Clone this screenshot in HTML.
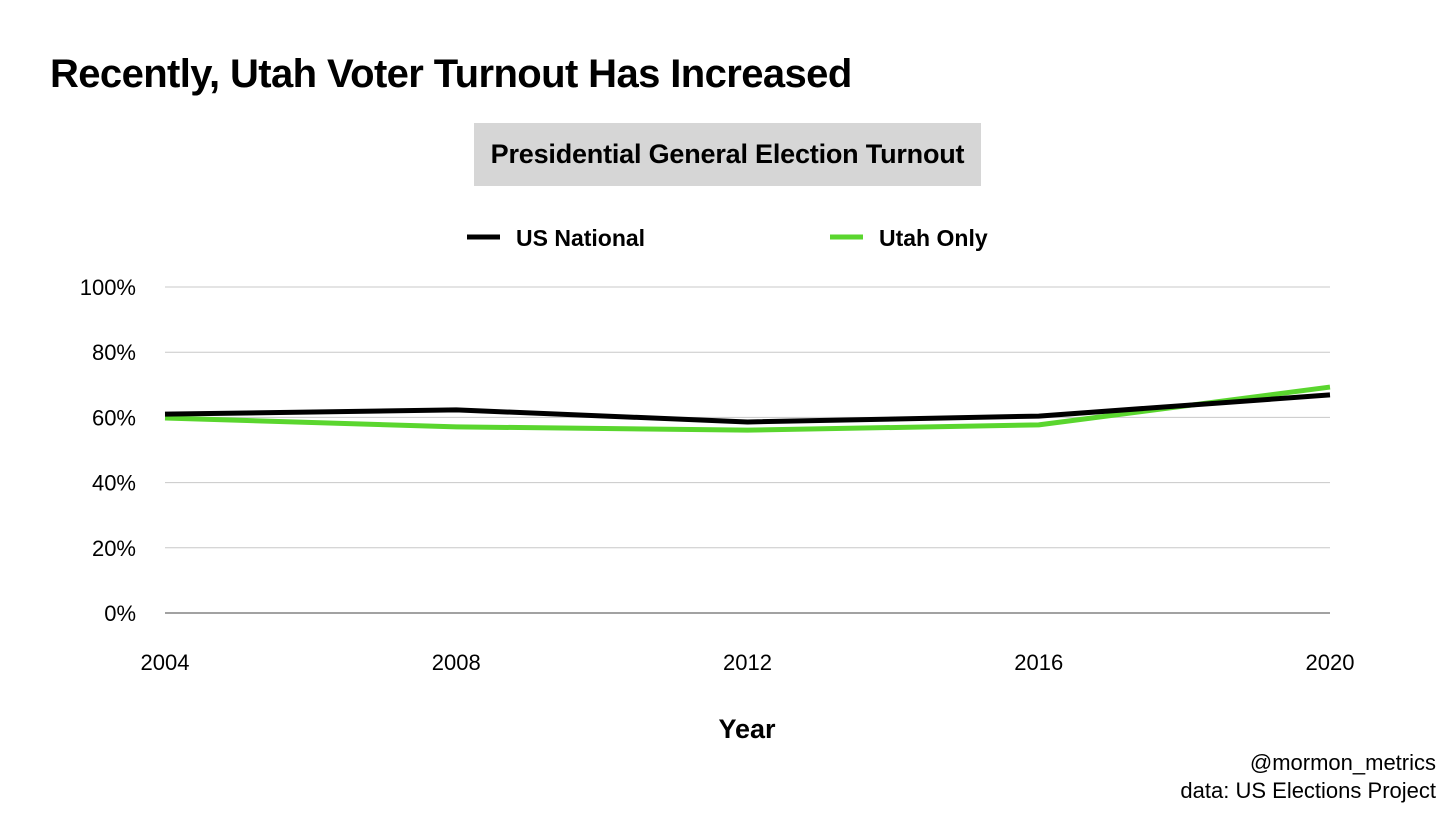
<!DOCTYPE html>
<html><head><meta charset="utf-8">
<style>
body{margin:0;width:1456px;height:819px;background:#fff;font-family:"Liberation Sans",sans-serif;overflow:hidden;position:relative}
.t{position:absolute;white-space:nowrap}
</style></head>
<body>
<div class="t" style="left:50px;top:52px;font-size:40px;font-weight:bold;letter-spacing:-0.6px">Recently, Utah Voter Turnout Has Increased</div>
<div class="t" style="left:474px;top:123px;width:507px;height:63px;background:#d6d6d6;font-size:27px;font-weight:bold;line-height:63px;text-align:center;letter-spacing:-0.2px">Presidential General Election Turnout</div>
<svg id="chart" width="1456" height="819" style="position:absolute;left:0;top:0"></svg>
<div class="t" style="right:20px;top:750px;font-size:22px">@mormon_metrics</div>
<div class="t" style="right:20px;top:778px;font-size:22px">data: US Elections Project</div>
<script>
const years=[2004,2008,2012,2016,2020];
const usNational=[61.0,62.3,58.6,60.4,66.9];
const utahOnly=[59.8,57.1,56.1,57.7,69.3];
const yTicks=[0,20,40,60,80,100];
const svg=document.getElementById('chart');
const NS='http://www.w3.org/2000/svg';
const x=v=>165+(v-2004)/(2020-2004)*(1330-165);
const y=v=>613-v/100*(613-287);
function mk(t,a,txt){const e=document.createElementNS(NS,t);for(const k in a)e.setAttribute(k,a[k]);if(txt!==undefined)e.textContent=txt;svg.appendChild(e);return e;}
yTicks.forEach(v=>{
  const g=mk('line',{x1:165,x2:1330,y1:y(v),y2:y(v),stroke:v===0?'#444':'#c8c8c8','stroke-width':1});
  
  
  const l=mk('text',{x:136,y:y(v)+8,'text-anchor':'end','font-size':22,fill:'#000'},v+'%');
  
  
});
years.forEach(v=>{
  const l=mk('text',{x:x(v),y:670,'text-anchor':'middle','font-size':22,fill:'#000'},String(v));
  
  
});
const xt=mk('text',{x:747,y:738,'text-anchor':'middle','font-size':27,'font-weight':'bold'},'Year');


function series(vals,color,name){
  const p=mk('polyline',{points:vals.map((v,i)=>x(years[i])+','+y(v)).join(' '),fill:'none',stroke:color,'stroke-width':5,'stroke-linejoin':'round'});
  
  
}
series(utahOnly,'#5ad62e','utah-only-line');
series(usNational,'#000','us-national-line');
[[467,'#000','US National','legend-us-national'],[830,'#5ad62e','Utah Only','legend-utah-only']].forEach(([lx,c,t,n])=>{
  const g=document.createElementNS(NS,'g');svg.appendChild(g);
  
  
  const ln=document.createElementNS(NS,'line');
  [['x1',lx],['x2',lx+33],['y1',237],['y2',237],['stroke',c],['stroke-width',5]].forEach(([k,v])=>ln.setAttribute(k,v));
  g.appendChild(ln);
  const tx=document.createElementNS(NS,'text');
  [['x',lx+49],['y',246],['font-size',23],['font-weight','bold']].forEach(([k,v])=>tx.setAttribute(k,v));
  tx.textContent=t;g.appendChild(tx);
});
</script>
</body></html>
